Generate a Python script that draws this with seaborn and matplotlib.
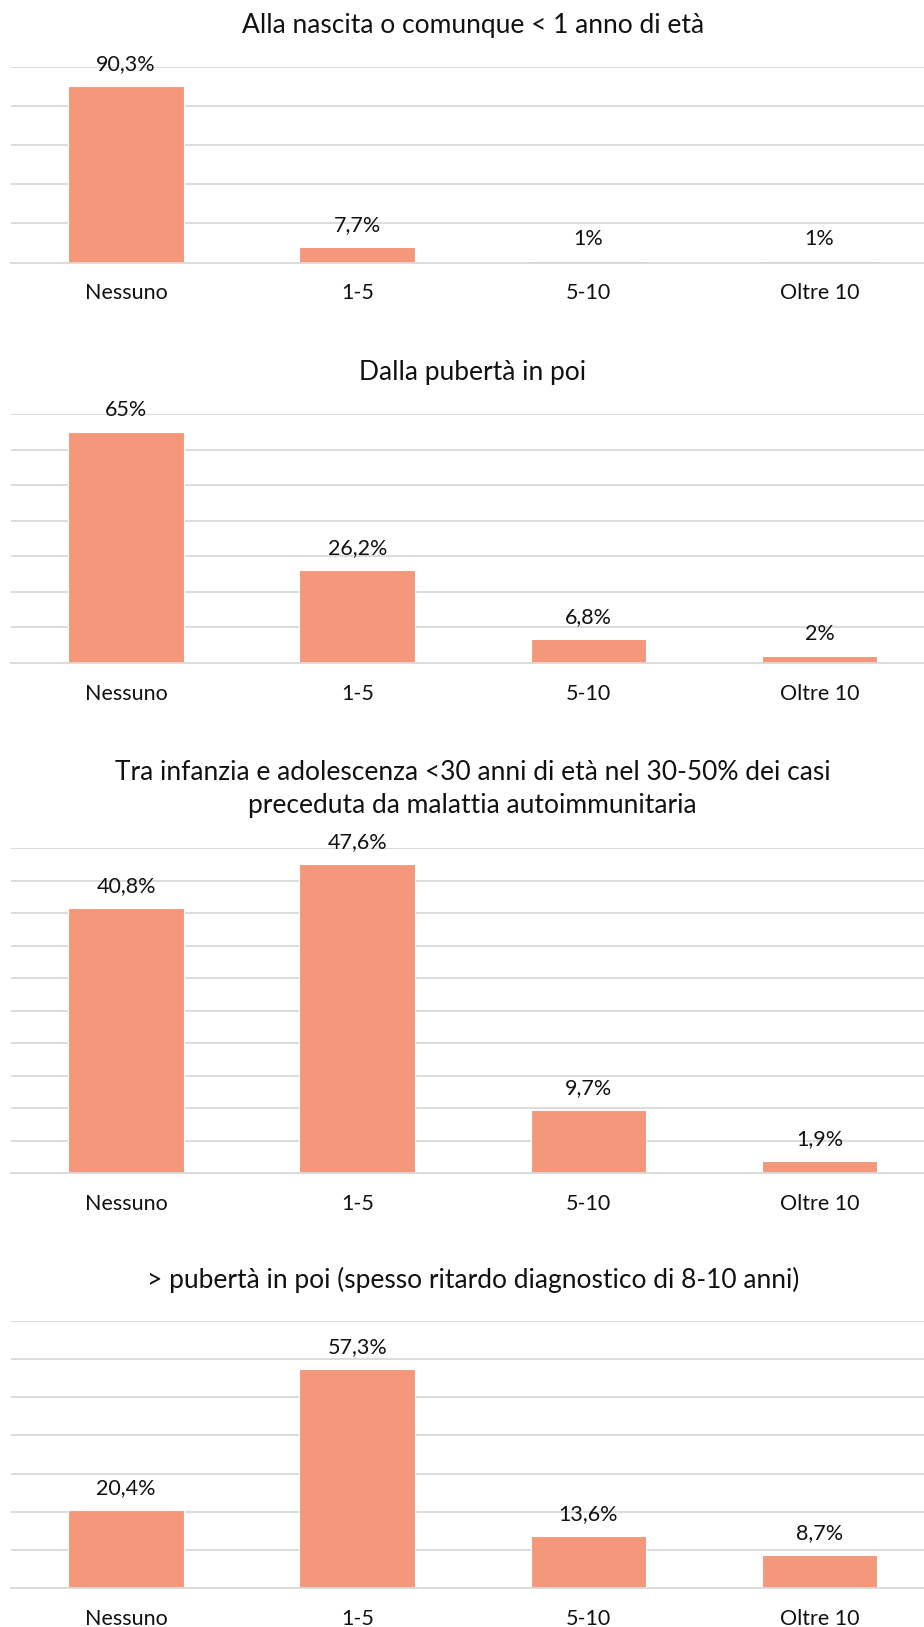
import matplotlib
matplotlib.use("Agg")
import matplotlib.pyplot as plt
import seaborn as sns

# Onset groups and the share of patients in each range
categories = ["Nessuno", "1-5", "5-10", "Oltre 10"]

titles = [
    "Alla nascita o comunque < 1 anno di età",
    "Dalla pubertà in poi",
    "Tra infanzia e adolescenza <30 anni di età nel 30-50% dei casi\npreceduta da malattia autoimmunitaria",
    "> pubertà in poi (spesso ritardo diagnostico di 8-10 anni)",
]

values_nascita = [90.3, 7.7, 1, 1]
values_puberta = [65, 26.2, 6.8, 2]
values_infanzia = [40.8, 47.6, 9.7, 1.9]
values_oltre_puberta = [20.4, 57.3, 13.6, 8.7]

y_max = [100, 70, 50, 70]
y_step = [20, 10, 5, 10]

sns.set_theme(style="white")
plt.rcParams["font.family"] = ["Lato", "DejaVu Sans"]

BAR = "#F4977B"
GRID = "#D9D9D9"
TEXT = "#111111"
W, H = 924, 1627

fig = plt.figure(figsize=(W / 100, H / 100), dpi=100)

# (top gridline, axis line) in pixels from the top of the figure
frames = [(66.7, 262.5), (414, 663), (848, 1173), (1321, 1588)]
x_left, x_right = 10.6, 935


def fmt(v):
    s = f"{v:.1f}".rstrip("0").rstrip(".")
    return s.replace(".", ",") + "%"


series = [values_nascita, values_puberta, values_infanzia, values_oltre_puberta]

for title, vals, top, top_px, step in zip(titles, series, y_max, frames, y_step):
    y_top, y_axis = top_px
    ax = fig.add_axes([
        x_left / W,
        1 - y_axis / H,
        (x_right - x_left) / W,
        (y_axis - y_top) / H,
    ])
    sns.barplot(x=categories, y=vals, ax=ax, color=BAR, saturation=1,
                width=0.5, edgecolor="white", linewidth=0.8, zorder=2)
    ax.set_xlim(-0.5, 3.5)
    ax.set_ylim(0, top)
    ax.set_yticks(range(0, top + 1, step))
    ax.set_yticklabels([])
    ax.set_xlabel("")
    ax.set_ylabel("")
    ax.grid(axis="y", color=GRID, linewidth=1.3, zorder=0)
    ax.grid(axis="x", visible=False)
    ax.set_axisbelow(True)
    for side in ["left", "right", "top"]:
        ax.spines[side].set_visible(False)
    ax.spines["bottom"].set_color(GRID)
    ax.spines["bottom"].set_linewidth(1.3)
    ax.tick_params(axis="y", length=0)
    ax.tick_params(axis="x", which="major", length=0, pad=15,
                   labelsize=15.5, labelcolor=TEXT)
    ax.set_xticks([-0.5, 0.5, 1.5, 2.5, 3.5], minor=True)
    ax.tick_params(axis="x", which="minor", length=6, width=1.3,
                   color="#CFCFCF", direction="out")

    for i, v in enumerate(vals):
        ax.annotate(fmt(v), xy=(i, v), xytext=(0, 22),
                    textcoords="offset pixels", ha="center", va="center",
                    fontsize=15.5, color=TEXT)

    nlines = title.count("\n") + 1
    ax.annotate(title, xy=(0.5, 1), xycoords="axes fraction",
                xytext=(0, 41 + (nlines - 1) * 18.5), textcoords="offset pixels",
                ha="center", va="center", fontsize=19, color=TEXT,
                linespacing=1.4, annotation_clip=False)

fig.savefig("out.png", dpi=100, facecolor="white")
